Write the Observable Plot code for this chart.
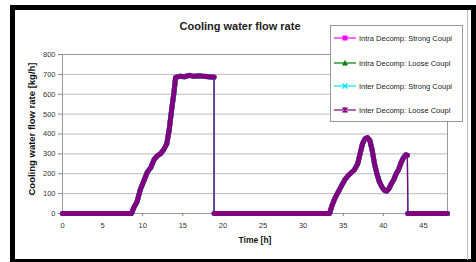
<!DOCTYPE html>
<html>
<head>
<meta charset="utf-8">
<script src="https://cdn.jsdelivr.net/npm/d3@7"></script>
<script src="https://cdn.jsdelivr.net/npm/@observablehq/plot@0.6"></script>
<style>
  html, body { margin: 0; padding: 0; background: #fff; }
  #wrap { position: relative; width: 476px; height: 262px; overflow: hidden; font-family: "Liberation Sans", Arial, sans-serif; }
  #border { position: absolute; left: 10px; top: 5px; width: 466px; height: 259px; border: 5px solid #000; box-sizing: border-box; }
  #inner { position: absolute; left: 467px; top: 10px; width: 1px; height: 250px; background: #bbb; }
  #chart { position: absolute; left: 0; top: 0; }
  #legend { position: absolute; left: 330px; top: 25px; width: 133px; height: 97px; border: 1px solid #999; background: #fff; box-sizing: border-box; }
  .item { position: absolute; left: 3px; height: 12px; display: flex; align-items: center; font-size: 7.5px; color: #222; white-space: nowrap; }
  .item svg { margin-right: 2px; }
</style>
</head>
<body>
<div id="wrap">
  <div id="border"></div>
  <div id="inner"></div>
  <div id="chart"></div>
  <div id="legend"></div>
</div>
<script>
// ---- data ----
const seriesNames = [
  "Intra Decomp: Strong Coupl",
  "Intra Decomp: Loose Coupl",
  "Inter Decomp: Strong Coupl",
  "Inter Decomp: Loose Coupl"
];
const seriesColors = ["#ff00ff", "#008000", "#00e5ee", "#800080"];
const seriesMarkers = ["square", "triangle", "cross", "star"];

const timeH = [0, 8.6, 8.9, 9.3, 9.7, 10.1, 10.6, 11.0, 11.4, 11.8, 12.2, 12.6, 13.0, 13.3, 13.6, 13.9, 14.1,
  14.6, 15.2, 15.8, 16.4, 17.0, 17.6, 18.2, 18.9, 18.9, 20, 25, 30, 33.3, 33.6, 34.0, 34.4, 34.8, 35.2, 35.6,
  36.0, 36.4, 36.8, 37.1, 37.4, 37.7, 38.0, 38.3, 38.6, 38.9, 39.2, 39.5, 39.8, 40.1, 40.4, 40.7, 41.0, 41.3,
  41.6, 41.9, 42.2, 42.5, 42.8, 43.0, 43.05, 45, 48];
const flowKgH = [0, 0, 30, 60, 120, 160, 210, 230, 270, 290, 300, 320, 350, 420, 520, 610, 685,
  690, 688, 695, 690, 693, 690, 688, 685, 0, 0, 0, 0, 0, 40, 80, 110, 140, 170, 190,
  205, 220, 250, 300, 350, 375, 382, 370, 320, 250, 200, 160, 135, 118, 112, 125, 150, 170,
  200, 220, 255, 280, 295, 292, 0, 0, 0];

const xTicks = [0, 5, 10, 15, 20, 25, 30, 35, 40, 45];
const yTicks = [0, 100, 200, 300, 400, 500, 600, 700, 800];
const titleText = "Cooling water flow rate";
const xLabel = "Time [h]";
const yLabel = "Cooling water flow rate [kg/h]";

// build rows; each of the four series shares the same readings (they overlap exactly)
const rows = [];
seriesNames.forEach((s, si) => {
  let seg = 0;
  timeH.forEach((t, i) => {
    if (i > 0 && Math.abs(flowKgH[i] - flowKgH[i - 1]) > 200) seg++;
    rows.push({series: s, si, t, v: flowKgH[i], seg: s + "|" + seg});
  });
});

const font = "'Liberation Sans', Arial, sans-serif";
const chart = Plot.plot({
  width: 476,
  height: 262,
  marginLeft: 62,
  marginRight: 29,
  marginTop: 54,
  marginBottom: 49,
  style: {fontFamily: font, fontSize: "7.5px", color: "#333", background: "transparent"},
  x: {domain: [0, 48]},
  y: {domain: [0, 800]},
  color: {domain: seriesNames, range: seriesColors},
  marks: [
    Plot.gridY(yTicks, {stroke: "#bbbbbb", strokeOpacity: 1}),
    Plot.frame({stroke: "#999"}),
    Plot.axisY(yTicks, {tickSize: 4, tickPadding: 3, label: null, stroke: "#888"}),
    Plot.axisX(xTicks, {tickSize: 3, tickPadding: 6, label: null, stroke: "#888"}),
    // thin connecting line (incl. vertical drops)
    Plot.line(rows, {x: "t", y: "v", z: "series", stroke: "series", strokeWidth: 1.2}),
    // thick marker-dense segments
    Plot.line(rows, {x: "t", y: "v", z: "seg", stroke: "series", strokeWidth: 5, strokeLinejoin: "round", strokeLinecap: "round"}),
    Plot.text([yLabel], {frameAnchor: "left", textAnchor: "middle", dx: -31, dy: -5, rotate: -90, fontWeight: "bold", fontSize: 9.5, fill: "#111", fontFamily: font}),
    Plot.text([xLabel], {frameAnchor: "bottom", dy: 29, fontWeight: "bold", fontSize: 8.5, fill: "#111", fontFamily: font}),
    Plot.text([titleText], {frameAnchor: "top", dx: -15, dy: -32, fontWeight: "bold", fontSize: 11, fill: "#222", fontFamily: font})
  ]
});
document.getElementById("chart").appendChild(chart);

// legend
const legend = document.getElementById("legend");
const itemTops = [6, 31, 54, 78];
function markerSvg(kind, color) {
  let m = "";
  if (kind === "square") m = `<rect x="8.5" y="3.5" width="5" height="5" fill="${color}"/>`;
  else if (kind === "triangle") m = `<path d="M11,3 L14,8.5 L8,8.5 Z" fill="${color}"/>`;
  else if (kind === "cross") m = `<path d="M8.5,3.5 L13.5,8.5 M13.5,3.5 L8.5,8.5" stroke="${color}" stroke-width="1.3"/>`;
  else m = `<path d="M8.5,3.5 L13.5,8.5 M13.5,3.5 L8.5,8.5 M11,3 L11,9" stroke="${color}" stroke-width="1.3"/>`;
  return `<svg width="23" height="12"><line x1="0" y1="6" x2="22" y2="6" stroke="${color}" stroke-width="1.2"/>${m}</svg>`;
}
seriesNames.forEach((s, i) => {
  const d = document.createElement("div");
  d.className = "item";
  d.style.top = itemTops[i] + "px";
  d.innerHTML = markerSvg(seriesMarkers[i], seriesColors[i]) + `<span>${s}</span>`;
  legend.appendChild(d);
});
</script>
</body>
</html>
